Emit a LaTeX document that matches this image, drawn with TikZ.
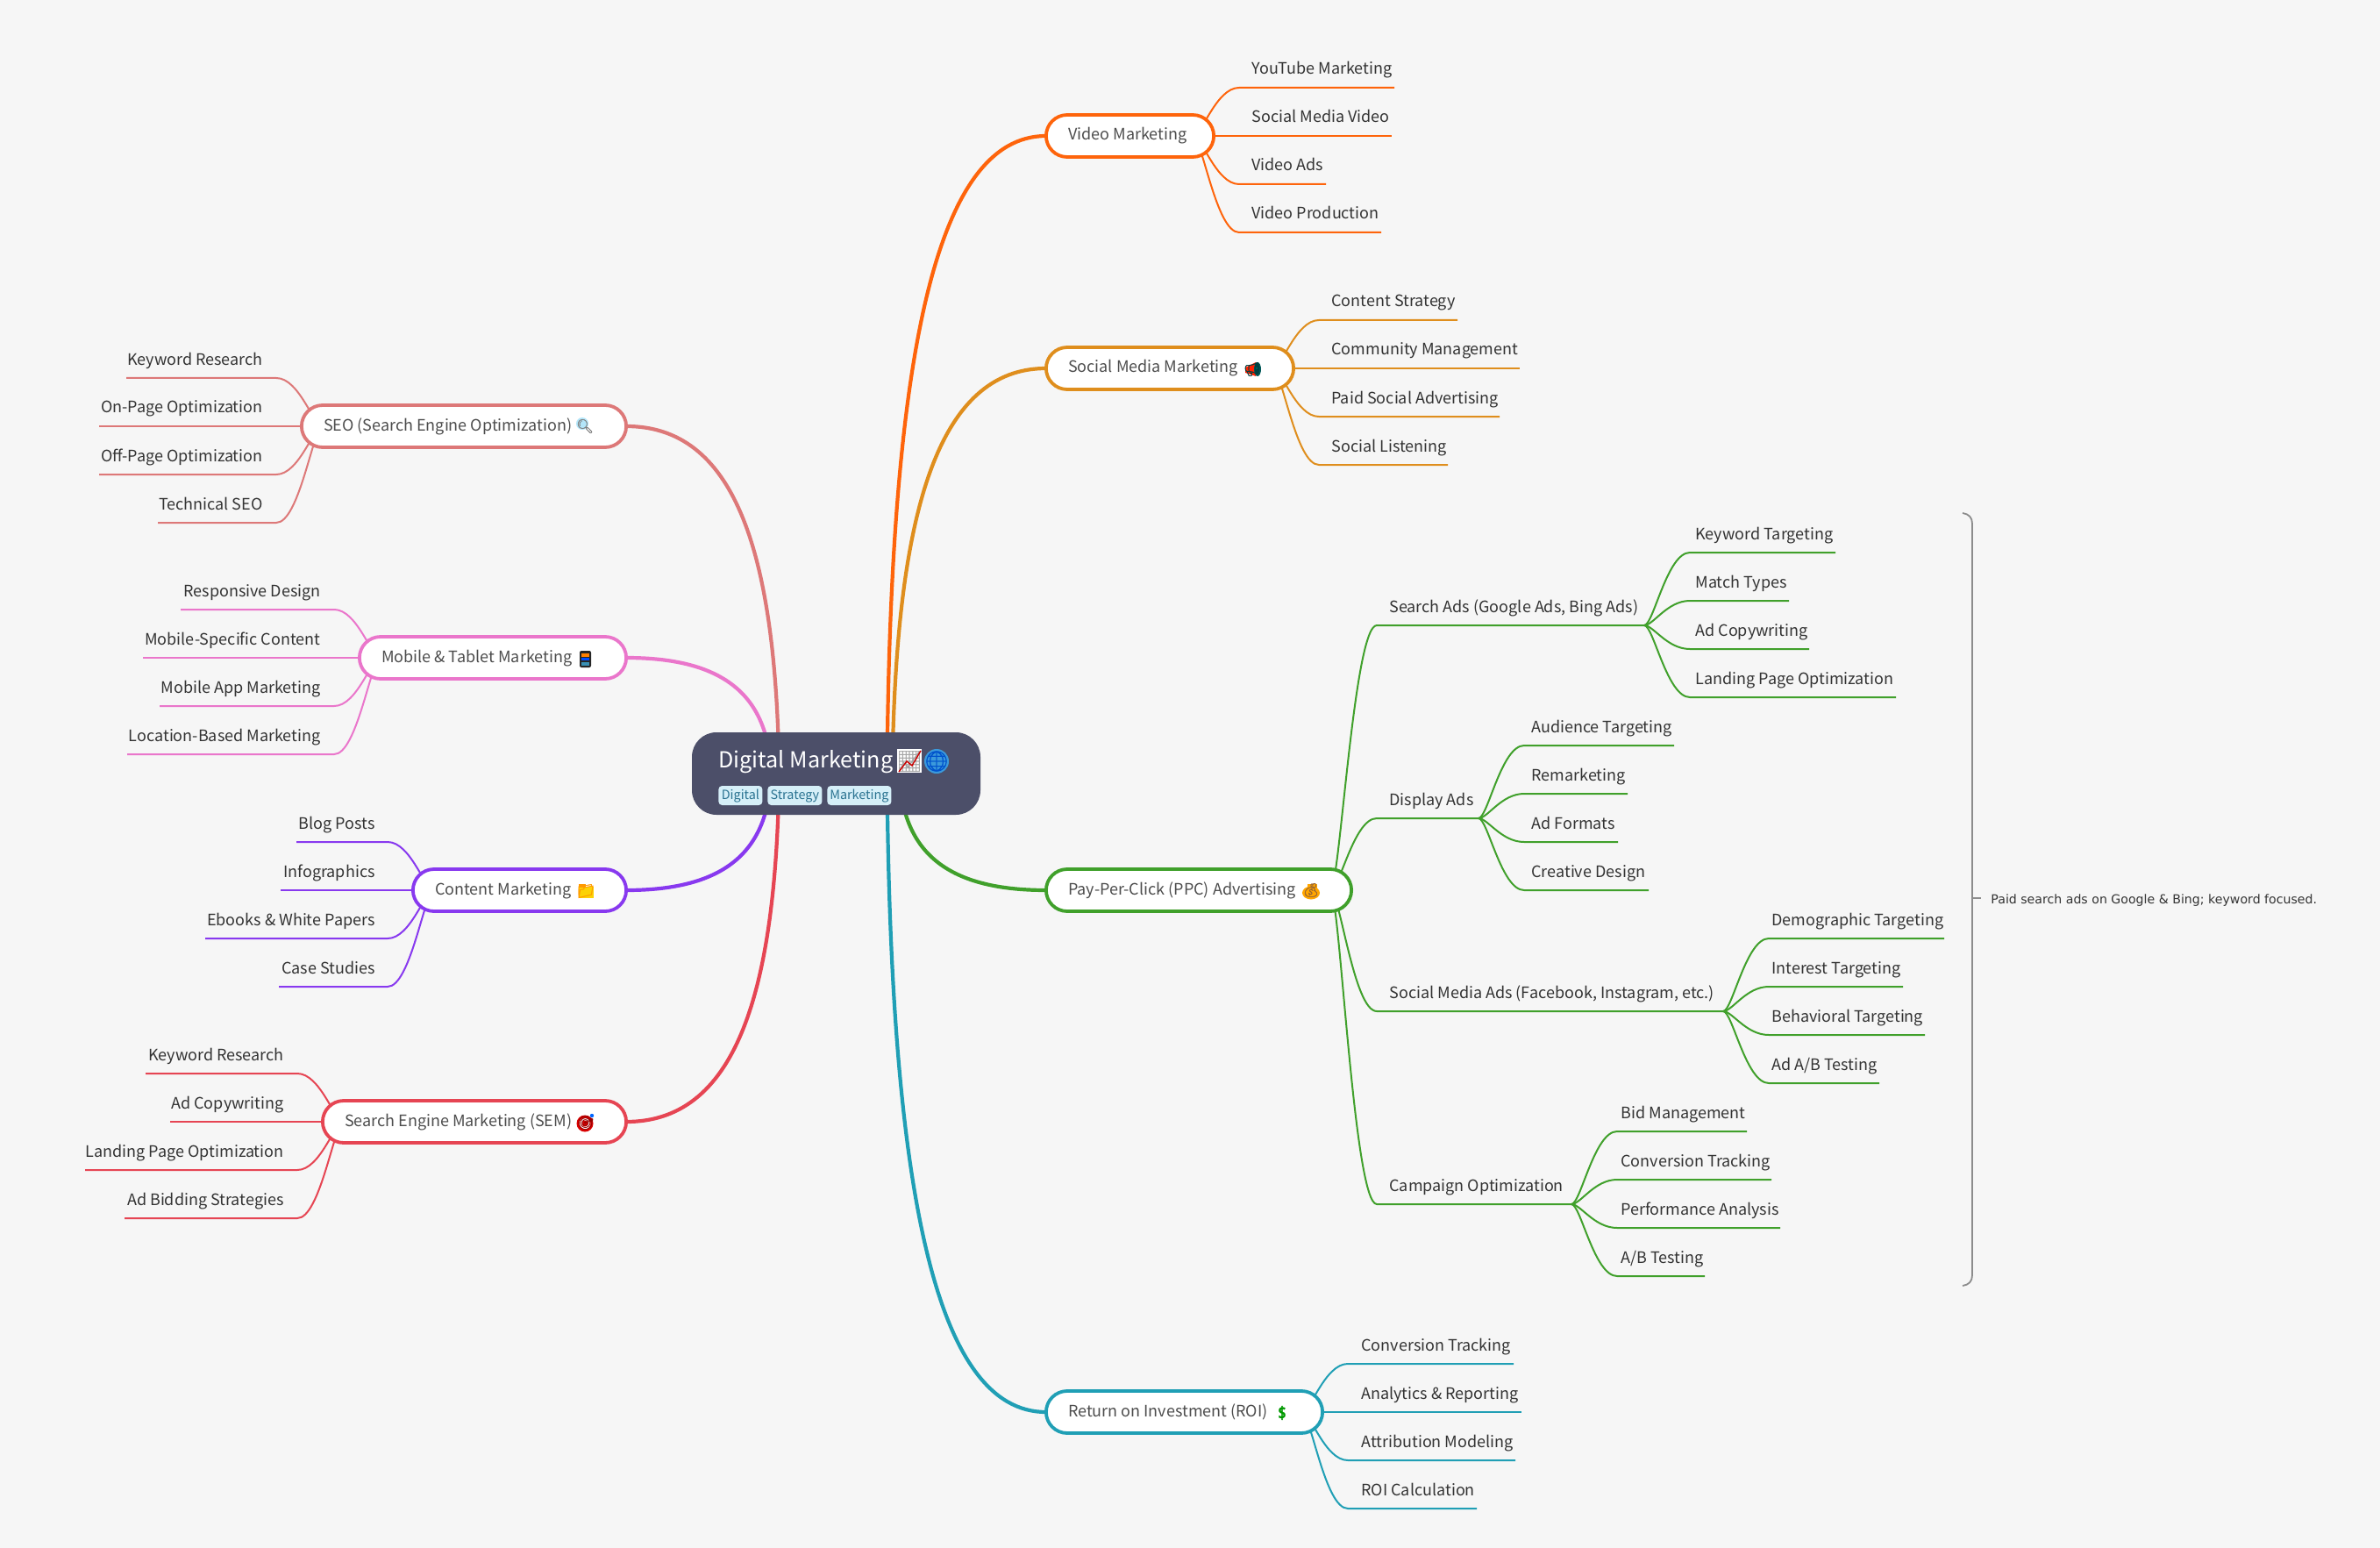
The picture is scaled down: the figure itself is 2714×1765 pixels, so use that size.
\documentclass[tikz,border=0pt]{standalone}
\usepackage{fontspec}
\usetikzlibrary{calc}
\setmainfont{Noto Sans CJK SC}
\newfontfamily\emojifont[FakeBold=1.2]{Noto Emoji}
\newfontfamily\notefont{DejaVu Sans}
\definecolor{bgc}{HTML}{F6F6F6}
\definecolor{rootc}{HTML}{4C4F69}
\definecolor{leaftxt}{HTML}{333333}
\definecolor{nodetxt}{HTML}{4D4D4D}
\definecolor{cvideo}{HTML}{FE640B}
\definecolor{csocial}{HTML}{DF8E1D}
\definecolor{cppc}{HTML}{40A02B}
\definecolor{croi}{HTML}{209FB5}
\definecolor{cseo}{HTML}{DD7878}
\definecolor{cmobile}{HTML}{EA76CB}
\definecolor{ccontent}{HTML}{8839EF}
\definecolor{csem}{HTML}{E64553}
\definecolor{tagfill}{HTML}{D5EFF8}
\definecolor{tagtxt}{HTML}{2A7391}
\pgfdeclarelayer{bgl}
\pgfsetlayers{bgl,main}
\tikzset{
  leaftext/.style={inner sep=0pt,anchor=base west,text=leaftxt,font=\fontsize{9}{11}\selectfont},
  lefttext/.style={inner sep=0pt,anchor=base east,text=leaftxt,font=\fontsize{9}{11}\selectfont},
  branchbox/.style={draw,fill=white,line width=1.9pt,rounded corners=12pt,text=nodetxt,inner ysep=0pt,inner xsep=0pt,outer sep=0pt,
     text height=8pt,text depth=3pt,font=\fontsize{9}{11}\selectfont},
  thin edge/.style={line width=1pt},
  main edge/.style={line width=2.1pt},
  tagbox/.style={fill=tagfill,text=tagtxt,rounded corners=2pt,inner sep=0pt,minimum height=11pt,text height=6pt,text depth=2pt,font=\fontsize{7.2}{8}\selectfont,anchor=west},
  emo/.style={inner sep=0pt,font=\emojifont\fontsize{7.8}{8}\selectfont},
  bigemo/.style={inner sep=0pt,font=\emojifont\fontsize{11.5}{12}\selectfont},
}
\newcommand\mainedge[3]{\begin{pgfonlayer}{bgl}\draw[main edge,#1] let \p1=(#2),\p2=(#3) in (\p1) .. controls (\x1+0.02*\x2-0.02*\x1,\y1+0.65*\y2-0.65*\y1) and (\x1+0.3*\x2-0.3*\x1,\y2) .. (\p2);\end{pgfonlayer}}
\newcommand\branch[6]{\pgfmathsetmacro\bw{0.5*(#3-#2)-0.9}\pgfmathsetmacro\tw{\bw+0.9-26}\pgfmathsetmacro\bc{0.5*(#2+#3)}
  \node[branchbox,draw=#5,minimum width=\bw pt,minimum height=24pt] (#1) at (\bc,#4) {\makebox[\tw pt][l]{#6}};}
\newcommand\rleaf[8]{\coordinate (#1a) at (#4,#5);\coordinate (#1b) at (#6,#5);
  \begin{pgfonlayer}{bgl}\draw[thin edge,#3] let \p1=(#2),\p2=(#1a) in (\p1) .. controls (\x1+0.2*\x2-0.2*\x1,\y1) and (\x1+0.5*\x2-0.5*\x1,\y2) .. (\p2) -- (#1b);\end{pgfonlayer}
  \node[leaftext] (#1) at (#7,#5-15) {#8};}
\newcommand\lleaf[8]{\coordinate (#1a) at (#4,#5);\coordinate (#1b) at (#6,#5);
  \begin{pgfonlayer}{bgl}\draw[thin edge,#3] let \p1=(#2),\p2=(#1a) in (\p1) .. controls (\x1+0.2*\x2-0.2*\x1,\y1) and (\x1+0.5*\x2-0.5*\x1,\y2) .. (\p2) -- (#1b);\end{pgfonlayer}
  \node[lefttext] (#1) at (#7,#5-15) {#8};}
\begin{document}
\begin{tikzpicture}[x=0.5pt,y=-0.5pt]
\begin{pgfonlayer}{bgl}
\path[use as bounding box,fill=bgc] (0,0) rectangle (2714,1765);
\end{pgfonlayer}
% root
\node[fill=rootc,rounded corners=14pt,minimum width=164.5pt,minimum height=47pt,inner sep=0pt] (root) at (953.5,882) {};
\node[inner sep=0pt,anchor=base west,text=white,font=\fontsize{12.6}{14}\selectfont] (title) at (819,875) {Digital Marketing};
\node[tagbox,minimum width=25pt] (t1) at (819,907) {Digital};
\node[tagbox,minimum width=31pt] (t2) at (875,907) {Strategy};
\node[tagbox,minimum width=36.5pt] (t3) at (943,907) {Marketing};
\coordinate (sv) at ($(root.center)+(58,0)$);
\coordinate (ss) at ($(root.center)+(64,0)$);
\coordinate (sp) at ($(root.center)+(72,0)$);
\coordinate (sr) at ($(root.center)+(58,0)$);
\coordinate (sseo) at ($(root.center)+(-65,0)$);
\coordinate (smob) at ($(root.center)+(-74,0)$);
\coordinate (scon) at ($(root.center)+(-74,0)$);
\coordinate (ssem) at ($(root.center)+(-65,0)$);
% branches
\branch{video}{1192}{1385}{155}{cvideo}{Video Marketing}
\branch{social}{1192}{1476}{420}{csocial}{Social Media Marketing}
\branch{ppc}{1192}{1542}{1015}{cppc}{Pay-Per-Click (PPC) Advertising}
\branch{roi}{1192}{1509}{1610}{croi}{Return on Investment (ROI)}
\branch{seo}{343}{715}{486}{cseo}{SEO (Search Engine Optimization)}
\branch{mobile}{409}{715}{750}{cmobile}{Mobile \& Tablet Marketing}
\branch{content}{470}{715}{1015}{ccontent}{Content Marketing}
\branch{sem}{367}{715}{1279}{csem}{Search Engine Marketing (SEM)}
\mainedge{cvideo}{sv}{video.west}
\mainedge{csocial}{ss}{social.west}
\mainedge{cppc}{sp}{ppc.west}
\mainedge{croi}{sr}{roi.west}
\mainedge{cseo}{sseo}{seo.east}
\mainedge{cmobile}{smob}{mobile.east}
\mainedge{ccontent}{scon}{content.east}
\mainedge{csem}{ssem}{sem.east}
% emoji
\fill[white] (1023,854) rectangle (1051,881);
\node[bigemo,text=gray!70] (echart) at (1037,868) {📈};
\draw[red!80!black,line width=0.7pt] (1025,880) -- (1034,868) -- (1040,873) -- (1050,856);
\fill[cyan!70!blue!80] (1068,868) circle (14);
\node[bigemo,text=blue!60!cyan!80!black] (eglobe) at (1068,868) {🌐};
\fill[cyan!30] (664,483) circle (7);
\node[emo,text=gray] (elens) at (667,486) {🔍};
\fill[black!85,rounded corners=1pt] (661,742) rectangle (674,761);
\node[emo,text=black!85] (ephone) at (668,751) {📱};
\fill[orange] (663,745) rectangle (672,749);
\fill[blue!70!cyan] (663,750) rectangle (672,753);
\fill[cyan!70!black] (663,755) rectangle (672,759);
\fill[yellow!70!orange] (660,1011) rectangle (677,1024);
\fill[orange!80!yellow] (660,1008) rectangle (668,1012);
\node[emo,text=orange!80!yellow] (efolder) at (668,1016) {📁};
\fill[red!85!black] (667,1281) circle (9.5);
\fill[white] (667,1281) circle (6.3);
\fill[red!85!black] (667,1281) circle (3.5);
\node[emo,text=red!60!black] (etarget) at (668,1280) {🎯};
\fill[blue!60!cyan] (675,1272) circle (2.2);
\fill[red!75!orange] (1420,419) -- (1432,413) -- (1432,429) -- (1420,425) -- cycle;
\fill[teal!70!black] (1434,421) ellipse (4 and 8);
\node[emo,text=teal!50!black] (emega) at (1428,421) {📢};
\fill[orange!70!yellow] (1495,1018) ellipse (10 and 7.5);
\fill[orange!70!yellow] (1491,1008) rectangle (1502,1013);
\node[emo,text=brown!80!black] (ebag) at (1495,1015) {💰};
\node[emo,text=green!60!black] (edollar) at (1462,1611) {💲};
% sources of leaf connectors
\coordinate (vs) at ($(video.east)+(-24,0)$);
\coordinate (ss2) at ($(social.east)+(-24,0)$);
\coordinate (ps) at ($(ppc.east)+(-24,0)$);
\coordinate (rs) at ($(roi.east)+(-24,0)$);
\coordinate (seos) at ($(seo.west)+(24,0)$);
\coordinate (mobs) at ($(mobile.west)+(24,0)$);
\coordinate (cons) at ($(content.west)+(24,0)$);
\coordinate (sems) at ($(sem.west)+(24,0)$);
% video
\rleaf{v1}{vs}{cvideo}{1413}{100}{1590}{1427}{YouTube Marketing}
\rleaf{v2}{vs}{cvideo}{1413}{155}{1587}{1427}{Social Media Video}
\rleaf{v3}{vs}{cvideo}{1413}{210}{1512}{1427}{Video Ads}
\rleaf{v4}{vs}{cvideo}{1413}{265}{1575}{1427}{Video Production}
% social
\rleaf{s1}{ss2}{csocial}{1504}{365}{1662}{1518}{Content Strategy}
\rleaf{s2}{ss2}{csocial}{1504}{420}{1733}{1518}{Community Management}
\rleaf{s3}{ss2}{csocial}{1504}{475}{1710}{1518}{Paid Social Advertising}
\rleaf{s4}{ss2}{csocial}{1504}{530}{1651}{1518}{Social Listening}
% ppc
\rleaf{p1}{ps}{cppc}{1570}{713}{1875}{1584}{Search Ads (Google Ads, Bing Ads)}
\rleaf{p2}{ps}{cppc}{1570}{933}{1686}{1584}{Display Ads}
\rleaf{p3}{ps}{cppc}{1570}{1153}{1965}{1584}{Social Media Ads (Facebook, Instagram, etc.)}
\rleaf{p4}{ps}{cppc}{1570}{1373}{1792}{1584}{Campaign Optimization}
\rleaf{a1}{p1b}{cppc}{1927}{630}{2093}{1933}{Keyword Targeting}
\rleaf{a2}{p1b}{cppc}{1927}{685}{2040}{1933}{Match Types}
\rleaf{a3}{p1b}{cppc}{1927}{740}{2063}{1933}{Ad Copywriting}
\rleaf{a4}{p1b}{cppc}{1927}{795}{2162}{1933}{Landing Page Optimization}
\rleaf{b1}{p2b}{cppc}{1738}{850}{1909}{1746}{Audience Targeting}
\rleaf{b2}{p2b}{cppc}{1738}{905}{1856}{1746}{Remarketing}
\rleaf{b3}{p2b}{cppc}{1738}{960}{1845}{1746}{Ad Formats}
\rleaf{b4}{p2b}{cppc}{1738}{1015}{1880}{1746}{Creative Design}
\rleaf{c1}{p3b}{cppc}{2017}{1070}{2217}{2020}{Demographic Targeting}
\rleaf{c2}{p3b}{cppc}{2017}{1125}{2170}{2020}{Interest Targeting}
\rleaf{c3}{p3b}{cppc}{2017}{1180}{2195}{2020}{Behavioral Targeting}
\rleaf{c4}{p3b}{cppc}{2017}{1235}{2143}{2020}{Ad A/B Testing}
\rleaf{d1}{p4b}{cppc}{1844}{1290}{1992}{1848}{Bid Management}
\rleaf{d2}{p4b}{cppc}{1844}{1345}{2020}{1848}{Conversion Tracking}
\rleaf{d3}{p4b}{cppc}{1844}{1400}{2030}{1848}{Performance Analysis}
\rleaf{d4}{p4b}{cppc}{1844}{1455}{1944}{1848}{A/B Testing}
% roi
\rleaf{r1}{rs}{croi}{1537}{1555}{1726}{1552}{Conversion Tracking}
\rleaf{r2}{rs}{croi}{1537}{1610}{1735}{1552}{Analytics \& Reporting}
\rleaf{r3}{rs}{croi}{1537}{1665}{1728}{1552}{Attribution Modeling}
\rleaf{r4}{rs}{croi}{1537}{1720}{1684}{1552}{ROI Calculation}
% seo
\lleaf{e1}{seos}{cseo}{315}{431}{144}{300}{Keyword Research}
\lleaf{e2}{seos}{cseo}{315}{486}{113}{300}{On-Page Optimization}
\lleaf{e3}{seos}{cseo}{315}{541}{113}{300}{Off-Page Optimization}
\lleaf{e4}{seos}{cseo}{315}{596}{180}{300}{Technical SEO}
% mobile
\lleaf{m1}{mobs}{cmobile}{381}{695}{206}{366}{Responsive Design}
\lleaf{m2}{mobs}{cmobile}{381}{750}{163}{366}{Mobile-Specific Content}
\lleaf{m3}{mobs}{cmobile}{381}{805}{182}{366}{Mobile App Marketing}
\lleaf{m4}{mobs}{cmobile}{381}{860}{145}{366}{Location-Based Marketing}
% content
\lleaf{n1}{cons}{ccontent}{442}{960}{338}{428}{Blog Posts}
\lleaf{n2}{cons}{ccontent}{442}{1015}{320}{428}{Infographics}
\lleaf{n3}{cons}{ccontent}{442}{1070}{234}{428}{Ebooks \& White Papers}
\lleaf{n4}{cons}{ccontent}{442}{1125}{318}{428}{Case Studies}
% sem
\lleaf{k1}{sems}{csem}{339}{1224}{166}{324}{Keyword Research}
\lleaf{k2}{sems}{csem}{339}{1279}{194}{324}{Ad Copywriting}
\lleaf{k3}{sems}{csem}{339}{1334}{97}{324}{Landing Page Optimization}
\lleaf{k4}{sems}{csem}{339}{1389}{142}{324}{Ad Bidding Strategies}
% note
\node[inner sep=0pt,anchor=west,text=leaftxt,font=\notefont\fontsize{7.07}{9}\selectfont] (note) at (2270,1027) {Paid search ads on Google \& Bing; keyword focused.};
\coordinate (tick) at (2249,1024);
\coordinate (tickend) at (2259,1024);
\draw[gray!90,line width=0.9pt] (2238,585) .. controls (2245,586) and (2249,590) .. (2249,597) -- (2249,1454) .. controls (2249,1461) and (2245,1465) .. (2238,1466);
\draw[gray!90,line width=0.9pt] (tick) -- (tickend);
\end{tikzpicture}
\end{document}
